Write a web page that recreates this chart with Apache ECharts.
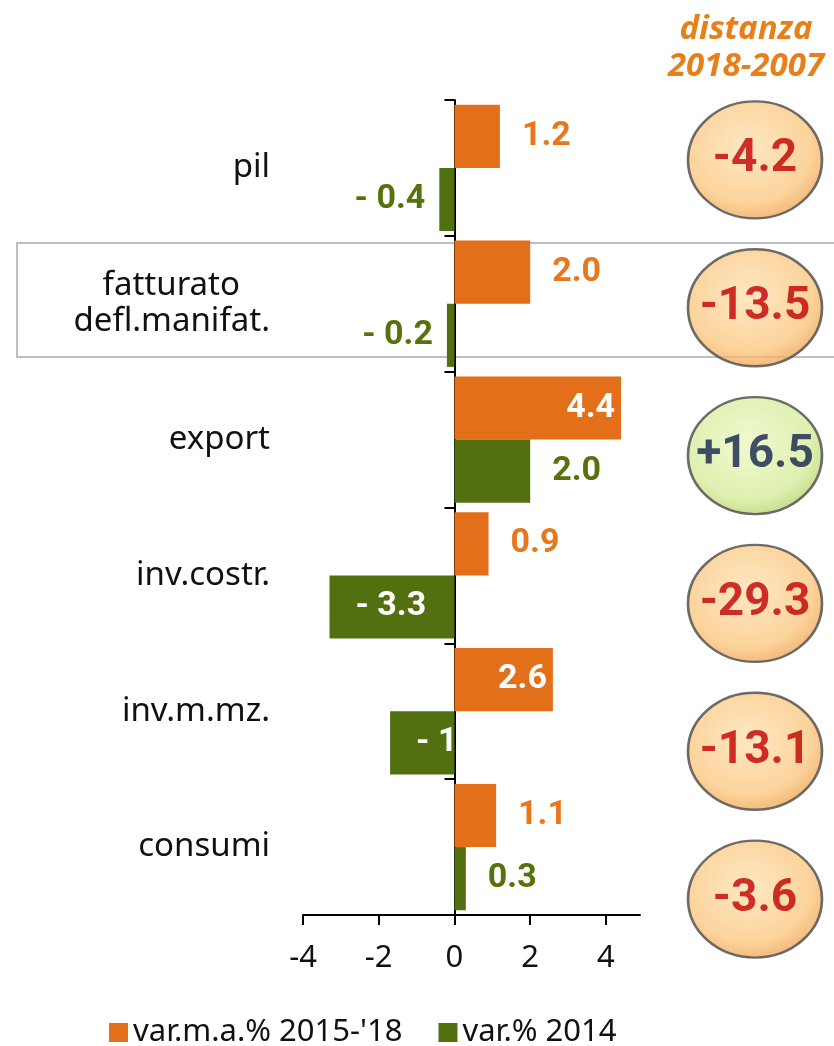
<!DOCTYPE html>
<html>
<head>
<meta charset="utf-8">
<script src="https://cdn.jsdelivr.net/npm/echarts@6/dist/echarts.min.js"></script>
<style>
  html, body { margin: 0; padding: 0; background: #fff; }
  #main { width: 834px; height: 1046px; }
</style>
</head>
<body>
<div id="main"></div>
<script>
// categories, top to bottom
var categories = ['pil', 'fatturato\ndefl.manifat.', 'export', 'inv.costr.', 'inv.m.mz.', 'consumi'];
var varMedia = [1.2, 2.0, 4.4, 0.9, 2.6, 1.1];      // var.m.a.% 2015-'18
var var2014 = [-0.4, -0.2, 2.0, -3.3, -1.7, 0.3];   // var.% 2014
var distanza = [-4.2, -13.5, 16.5, -29.3, -13.1, -3.6]; // distanza 2018-2007
var xTicks = [-4, -2, 0, 2, 4];
var seriesNames = ["var.m.a.% 2015-'18", 'var.% 2014'];

var ORANGE = '#e36f1a';
var GREEN = '#52700f';
var numFont = "Roboto, 'Noto Sans', sans-serif";
var txtFont = "'Noto Sans', 'Open Sans', sans-serif";

function fmt(v) {
    return v < 0 ? '- ' + Math.abs(v).toFixed(1) : v.toFixed(1);
}

function barItem(v, color) {
    var label;
    if (v >= 2.5) {
        label = { position: 'insideRight', distance: 6, color: '#fff' };
    } else if (v <= -1.5) {
        label = { position: 'insideLeft', distance: 26, color: '#fff' };
    } else {
        label = { position: v < 0 ? 'left' : 'right', distance: v < 0 ? 14 : 22, color: color };
    }
    return { value: v, label: label };
}

var myChart = echarts.init(document.getElementById('main'));
myChart.setOption({
    animation: false,
    title: {
        text: 'distanza\n2018-2007',
        left: 741,
        top: 6,
        textAlign: 'center',
        textStyle: {
            fontFamily: txtFont,
            fontStyle: 'italic',
            fontWeight: 'bold',
            fontSize: 33,
            lineHeight: 37,
            color: '#e8801a'
        }
    },
    legend: {
        left: 104,
        top: 1012,
        itemWidth: 19,
        itemHeight: 19,
        itemGap: 36,
        icon: 'rect',
        textStyle: { fontFamily: txtFont, fontSize: 31, color: '#111' },
        data: seriesNames
    },
    graphic: [{
        type: 'rect',
        z: -10,
        shape: { x: 17, y: 243, width: 830, height: 114 },
        style: { fill: 'none', stroke: '#aaa', lineWidth: 1.5 }
    }],
    grid: [
        { left: 303, width: 337, top: 100, height: 815, outerBoundsMode: 'none', containLabel: false },
        { left: 680, width: 150, top: 86, height: 887, outerBoundsMode: 'none', containLabel: false }
    ],
    xAxis: [{
        gridIndex: 0,
        type: 'value',
        min: -4,
        max: 4.9,
        splitLine: { show: false },
        axisLine: { show: true, lineStyle: { color: '#000', width: 2 } },
        axisTick: { show: true, length: 10, lineStyle: { color: '#000', width: 2 }, customValues: xTicks },
        axisLabel: { customValues: xTicks, margin: 28, fontFamily: txtFont, fontSize: 31, color: '#111' }
    }, {
        gridIndex: 1,
        type: 'category',
        data: ['d'],
        show: false
    }],
    yAxis: [{
        gridIndex: 0,
        type: 'category',
        inverse: true,
        data: categories,
        axisLine: { show: true, onZero: true, lineStyle: { color: '#000', width: 2 } },
        axisTick: { show: true, length: 10, lineStyle: { color: '#000', width: 2 } },
        axisLabel: {
            margin: 33,
            fontFamily: txtFont,
            fontSize: 33,
            color: '#111',
            formatter: function (v) {
                var parts = v.split('\n');
                if (parts.length > 1) {
                    return '{a|' + parts[0] + '}\n{b|' + parts[1] + '}';
                }
                return v;
            },
            rich: {
                a: { fontFamily: txtFont, fontSize: 33, color: '#111', padding: [0, 30, 0, 0], lineHeight: 36 },
                b: { fontFamily: txtFont, fontSize: 33, color: '#111', lineHeight: 36 }
            }
        }
    }, {
        gridIndex: 1,
        type: 'category',
        inverse: true,
        data: categories,
        show: false
    }],
    series: [{
        name: seriesNames[0],
        type: 'bar',
        xAxisIndex: 0,
        yAxisIndex: 0,
        barGap: 0,
        barCategoryGap: '7%',
        itemStyle: { color: ORANGE },
        label: {
            show: true,
            fontFamily: numFont,
            fontWeight: 'bold',
            fontSize: 34,
            formatter: function (p) { return fmt(p.value); }
        },
        data: varMedia.map(function (v) { return barItem(v, '#e8771e'); })
    }, {
        name: seriesNames[1],
        type: 'bar',
        xAxisIndex: 0,
        yAxisIndex: 0,
        barGap: 0,
        barCategoryGap: '7%',
        itemStyle: { color: GREEN },
        label: {
            show: true,
            fontFamily: numFont,
            fontWeight: 'bold',
            fontSize: 34,
            formatter: function (p) { return fmt(p.value); }
        },
        data: var2014.map(function (v) { return barItem(v, '#55720f'); })
    }, {
        name: 'distanza',
        type: 'scatter',
        xAxisIndex: 1,
        yAxisIndex: 1,
        symbol: 'circle',
        symbolSize: [134, 117],
        silent: true,
        data: distanza.map(function (v, i) {
            var pos = v > 0;
            return {
                value: ['d', categories[i], v],
                itemStyle: {
                    borderColor: '#4a4a4a',
                    borderWidth: 2.5,
                    color: new echarts.graphic.RadialGradient(0.45, 0.4, 0.62, pos ? [
                        { offset: 0, color: '#eef8c4' },
                        { offset: 0.75, color: '#d6ec9c' },
                        { offset: 1, color: '#b5d470' }
                    ] : [
                        { offset: 0, color: '#fde2b4' },
                        { offset: 0.75, color: '#fbc882' },
                        { offset: 1, color: '#eea456' }
                    ])
                },
                label: {
                    show: true,
                    position: 'inside',
                    formatter: (pos ? '+' : '') + v.toFixed(1),
                    fontFamily: numFont,
                    fontWeight: 'bold',
                    fontSize: 46,
                    color: pos ? '#13234d' : '#c00000'
                }
            };
        })
    }]
});
</script>
</body>
</html>
